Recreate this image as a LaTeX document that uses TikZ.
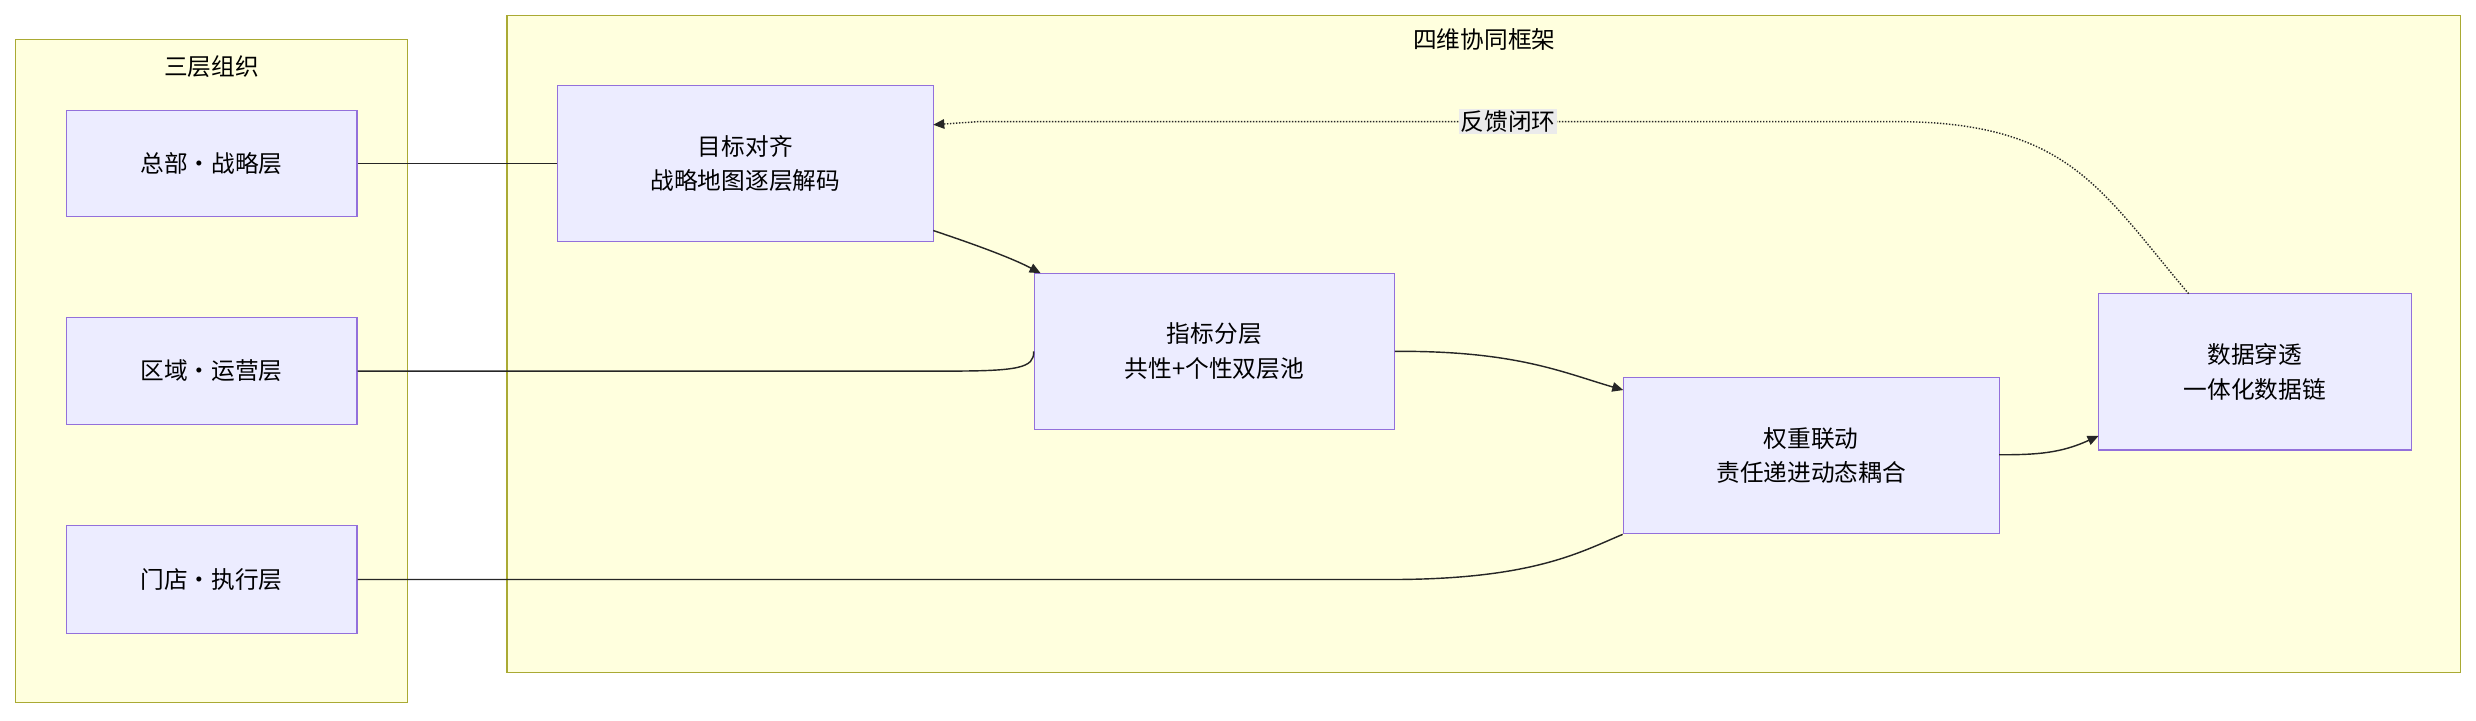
\documentclass[tikz,border=0pt]{standalone}
\usepackage{fontspec}
\setmainfont{Noto Sans CJK SC}
\usetikzlibrary{arrows.meta}
\definecolor{clfill}{HTML}{FFFFDE}
\definecolor{clline}{HTML}{AAAA33}
\definecolor{ndfill}{HTML}{ECECFF}
\definecolor{ndline}{HTML}{9370DB}
\begin{document}
\begin{tikzpicture}[x=1pt,y=-1pt,
  cl/.style={draw=clline,fill=clfill,line width=0.8pt},
  nd/.style={draw=ndline,fill=ndfill,line width=0.8pt,align=center,font=\fontsize{15}{22}\selectfont,inner sep=0pt},
  ed/.style={draw=black!85,line width=0.9pt},
  ar/.style={ed,-{Triangle[length=7pt,width=6pt]}},
  tt/.style={font=\fontsize{15}{18}\selectfont}]
\useasboundingbox (0,0) rectangle (1568,456);
\draw[cl] (10,25) rectangle (258,445);
\node[tt] (t1) at (134,42) {三层组织};
\draw[cl] (321,10) rectangle (1558,426);
\node[tt] (t2) at (940,25) {四维协同框架};
\node[nd,minimum width=184,minimum height=67] (hq) at (134,103.5) {总部·战略层};
\node[nd,minimum width=184,minimum height=68] (rg) at (134,235) {区域·运营层};
\node[nd,minimum width=184,minimum height=68] (st) at (134,367) {门店·执行层};
\node[nd,minimum width=238,minimum height=99] (a) at (472,103.5) {目标对齐\\战略地图逐层解码};
\node[nd,minimum width=228,minimum height=99] (b) at (769,222.5) {指标分层\\共性+个性双层池};
\node[nd,minimum width=238,minimum height=99] (c) at (1147,288.5) {权重联动\\责任递进动态耦合};
\node[nd,minimum width=198,minimum height=99] (d) at (1428,235.5) {数据穿透\\一体化数据链};
\draw[ed] (hq.east) -- (a.west |- hq.east);
\draw[ed] (rg.east) -- (600,235) .. controls (645,235) and (655,233) .. (b.west);
\draw[ed] (st.east) -- (880,367) .. controls (970,367) and (1000,350) .. (c.south west);
\draw[ar] (591,146) .. controls (615,154) and (640,163) .. (659,173);
\draw[ar] (b.east) ++(0,0) .. controls (960,222) and (990,236) .. (1028,247);
\draw[ar] (1266,288) .. controls (1290,288) and (1305,287) .. (1329,276);
\draw[ar,densely dotted] (1386,186) .. controls (1330,120) and (1310,77) .. (1200,77) -- (620,77) -- (591,79);
\node[tt,fill=black!8,inner sep=1pt] (lb) at (955,77) {反馈闭环};
\end{tikzpicture}
\end{document}
